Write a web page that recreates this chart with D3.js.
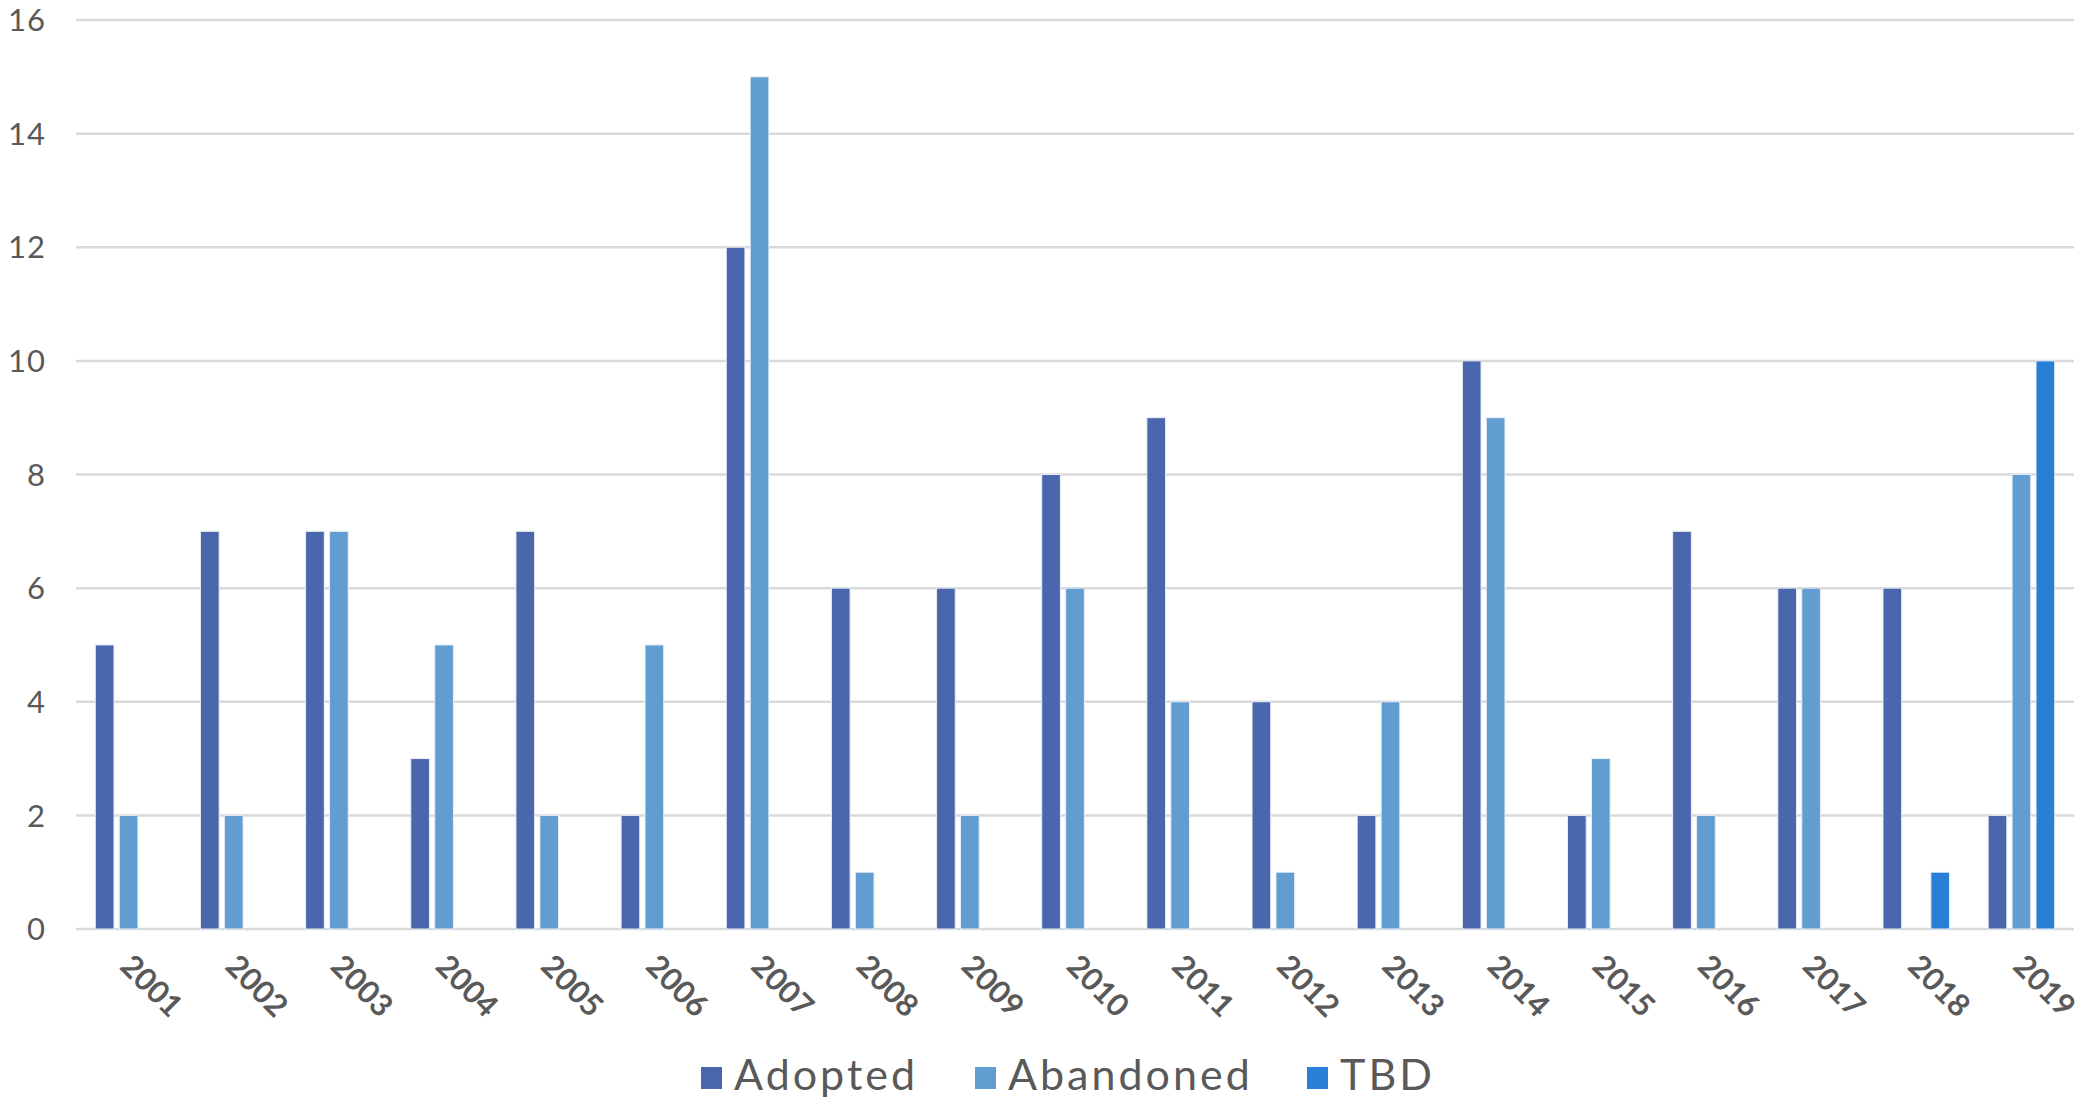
<!DOCTYPE html>
<html>
<head>
<meta charset="utf-8">
<script src="https://cdn.jsdelivr.net/npm/d3@7"></script>
<style>
  body { margin: 0; background: #fff; }
  text { font-family: "Lato", "DejaVu Sans", sans-serif; }
</style>
</head>
<body>
<div id="chart"></div>
<script>
var years = ["2001","2002","2003","2004","2005","2006","2007","2008","2009","2010",
             "2011","2012","2013","2014","2015","2016","2017","2018","2019"];
var seriesNames = ["Adopted", "Abandoned", "TBD"];
var adopted   = [5, 7, 7, 3, 7, 2, 12, 6, 6, 8, 9, 4, 2, 10, 2, 7, 6, 6, 2];
var abandoned = [2, 2, 7, 5, 2, 5, 15, 1, 2, 6, 4, 1, 4, 9, 3, 2, 6, 0, 8];
var tbd       = [0, 0, 0, 0, 0, 0, 0, 0, 0, 0, 0, 0, 0, 0, 0, 0, 0, 1, 10];
var yTicks = [0, 2, 4, 6, 8, 10, 12, 14, 16];
var colors = ["#4A66AC", "#629DD1", "#297FD5"];

var W = 2086, H = 1101;
var margin = {left: 76, right: 12, top: 20, bottom: 172};

var svg = d3.select("#chart").append("svg")
    .attr("width", W).attr("height", H);

var x = d3.scaleBand()
    .domain(years)
    .range([margin.left, W - margin.right])
    .paddingInner(0.367)
    .paddingOuter(0.1835);

var xs = d3.scaleBand()
    .domain(seriesNames)
    .range([0, x.bandwidth()])
    .paddingInner(0.22);

var y = d3.scaleLinear()
    .domain([0, 16])
    .range([H - margin.bottom, margin.top]);

var color = d3.scaleOrdinal().domain(seriesNames).range(colors);

// gridlines
svg.selectAll(".grid")
   .data(yTicks)
   .enter()
   .append("line")
   .attr("x1", margin.left)
   .attr("x2", W - margin.right)
   .attr("y1", function(d) { return y(d); })
   .attr("y2", function(d) { return y(d); })
   .style("stroke", "#d9d9d9")
   .style("stroke-width", 2.5);

// y labels
svg.selectAll(".ylab")
   .data(yTicks)
   .enter()
   .append("text")
   .attr("x", 46)
   .attr("y", function(d) { return y(d); })
   .attr("dy", "0.36em")
   .attr("text-anchor", "end")
   .style("font-size", "31px")
   .style("letter-spacing", "1px")
   .style("fill", "#595959")
   .text(function(d) { return d; });

// bars
var rows = years.map(function(yr, i) {
  return {year: yr, values: [
    {name: "Adopted", v: adopted[i]},
    {name: "Abandoned", v: abandoned[i]},
    {name: "TBD", v: tbd[i]}
  ]};
});

var groups = svg.selectAll(".grp")
   .data(rows)
   .enter()
   .append("g")
   .attr("transform", function(d) { return "translate(" + x(d.year) + ",0)"; });

groups.selectAll("rect")
   .data(function(d) { return d.values.filter(function(v) { return v.v > 0; }); })
   .enter()
   .append("rect")
   .attr("x", function(d) { return xs(d.name); })
   .attr("width", xs.bandwidth())
   .attr("y", function(d) { return y(d.v); })
   .attr("height", function(d) { return y(0) - y(d.v); })
   .attr("fill", function(d) { return color(d.name); })
   .style("stroke", "#e8eef8")
   .style("stroke-width", 1);

// x labels, rotated
svg.selectAll(".xlab")
   .data(years)
   .enter()
   .append("text")
   .attr("transform", function(d) {
     return "translate(" + (x(d) + x.bandwidth() / 2 - 10) + "," + (y(0) + 39) + ") rotate(45)";
   })
   .style("font-size", "31px")
   .style("font-weight", "bold")
   .style("fill", "#595959")
   .text(function(d) { return d; });

// legend
var legendX = [701, 975, 1307];
var leg = svg.selectAll(".leg")
   .data(seriesNames)
   .enter()
   .append("g")
   .attr("transform", function(d, i) { return "translate(" + legendX[i] + ",1090)"; });

leg.append("rect")
   .attr("x", 0).attr("y", -23)
   .attr("width", 21).attr("height", 22)
   .attr("fill", function(d) { return color(d); });

leg.append("text")
   .attr("x", 33)
   .attr("y", 0)
   .style("font-size", "43px")
   .style("letter-spacing", "3px")
   .style("fill", "#595959")
   .text(function(d) { return d; });
</script>
</body>
</html>
